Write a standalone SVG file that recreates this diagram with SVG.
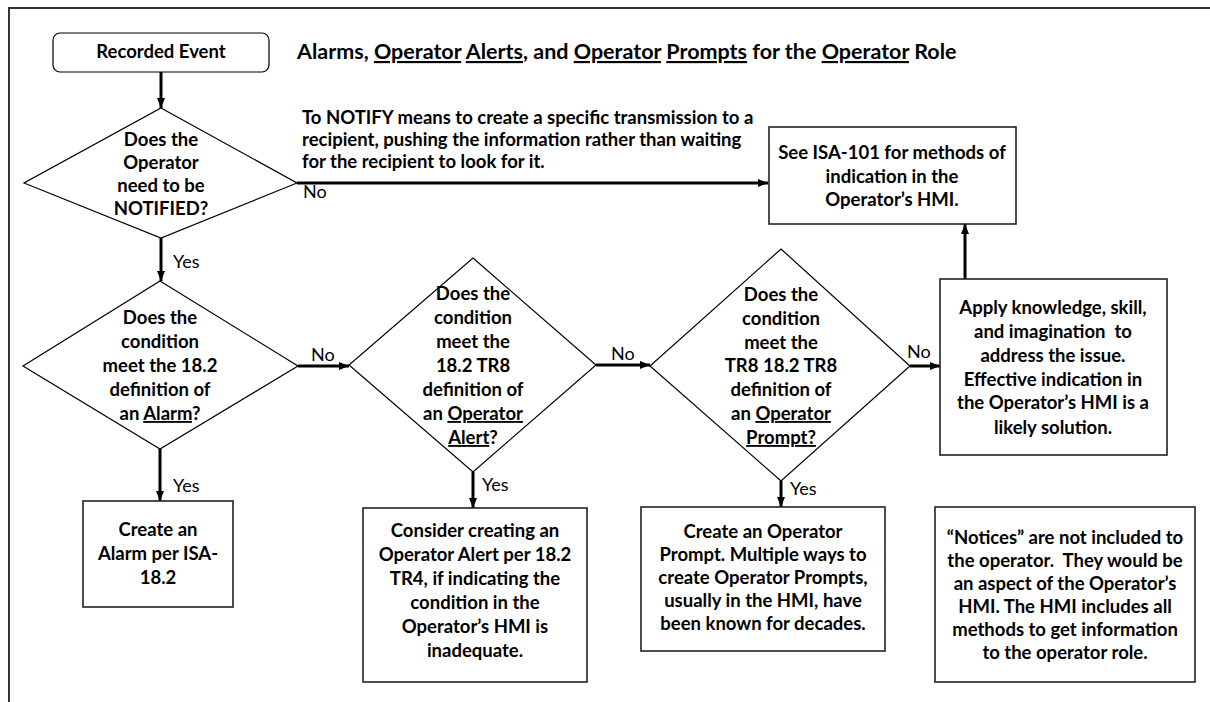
<svg xmlns="http://www.w3.org/2000/svg" width="1210" height="702" viewBox="0 0 1210 702">
<style>
.b{font-family:Lato,"Open Sans","Liberation Sans",sans-serif;font-weight:700;font-size:18.5px;fill:#000;text-anchor:middle}
.t{font-family:Lato,"Open Sans","Liberation Sans",sans-serif;font-weight:700;font-size:21.5px;fill:#000}
.n{font-family:Lato,"Open Sans","Liberation Sans",sans-serif;font-weight:700;font-size:18.5px;fill:#000}
.r{font-family:Lato,"Open Sans","Liberation Sans",sans-serif;font-weight:400;font-size:18px;fill:#000}
.u{text-decoration:underline}
.pre{white-space:pre}
.box{fill:#fff;stroke:#222;stroke-width:1.6}
.dia{fill:#fff;stroke:#000;stroke-width:1.2}
.con{fill:none;stroke:#000;stroke-width:3}
</style>
<defs>
<marker id="ah" markerUnits="userSpaceOnUse" markerWidth="10" markerHeight="8" refX="10" refY="4" orient="auto">
<path d="M0,0 L10,4 L0,8 z" fill="#000"/>
</marker>
</defs>
<rect width="1210" height="702" fill="#fff"/>
<path d="M9,702 V8 H1210" fill="none" stroke="#333" stroke-width="2"/>

<g id="connectors">
<line class="con" x1="161" y1="72" x2="161" y2="108" marker-end="url(#ah)"/>
<line class="con" x1="297" y1="183" x2="768" y2="183" stroke-width="2.5" marker-end="url(#ah)"/>
<line class="con" x1="161" y1="238" x2="161" y2="281" marker-end="url(#ah)"/>
<line class="con" x1="298" y1="366" x2="349" y2="366" marker-end="url(#ah)"/>
<line class="con" x1="596" y1="365" x2="650" y2="365" marker-end="url(#ah)"/>
<line class="con" x1="910" y1="366" x2="940" y2="366" marker-end="url(#ah)"/>
<line class="con" x1="965" y1="279" x2="965" y2="224" marker-end="url(#ah)"/>
<line class="con" x1="160" y1="449" x2="160" y2="501" marker-end="url(#ah)"/>
<line class="con" x1="473" y1="472" x2="473" y2="508" marker-end="url(#ah)"/>
<line class="con" x1="781" y1="481" x2="781" y2="507" marker-end="url(#ah)"/>
<text class="r" x="303" y="198">No</text>
<text class="r" x="173" y="268">Yes</text>
<text class="r" x="311" y="361">No</text>
<text class="r" x="611" y="360">No</text>
<text class="r" x="907" y="358">No</text>
<text class="r" x="173" y="492">Yes</text>
<text class="r" x="482" y="491">Yes</text>
<text class="r" x="790" y="495">Yes</text>
</g>

<g id="title">
<text class="t" x="297" y="59">Alarms, <tspan class="u">Operator</tspan> <tspan class="u">Alerts</tspan>, and <tspan class="u">Operator</tspan> <tspan class="u">Prompts</tspan> for the <tspan class="u">Operator</tspan> Role</text>
</g>

<g id="note-notify">
<text class="n" x="302" y="124">To NOTIFY means to create a specific transmission to a</text>
<text class="n" x="302" y="146">recipient, pushing the information rather than waiting</text>
<text class="n" x="302" y="168">for the recipient to look for it.</text>
</g>

<g id="recorded-event">
<rect x="53" y="33" width="216" height="39" rx="7" fill="#fff" stroke="#000" stroke-width="1.2"/>
<text class="b" x="161" y="58" font-size="17.5">Recorded Event</text>
</g>

<g id="d-notified">
<polygon class="dia" points="161,108 297,183 161,238 24,183"/>
<text class="b" x="161" y="146">Does the</text>
<text class="b" x="161" y="169">Operator</text>
<text class="b" x="161" y="192">need to be</text>
<text class="b" x="161" y="215">NOTIFIED?</text>
</g>

<g id="see-isa101">
<rect class="box" x="769" y="127" width="247" height="97"/>
<text class="b" x="892" y="159">See ISA-101 for methods of</text>
<text class="b" x="892" y="183">indication in the</text>
<text class="b" x="892" y="206">Operator’s HMI.</text>
</g>

<g id="d-alarm">
<polygon class="dia" points="160,281 298,366 160,449 23,366"/>
<text class="b" x="160" y="324">Does the</text>
<text class="b" x="160" y="348">condition</text>
<text class="b" x="160" y="372">meet the 18.2</text>
<text class="b" x="160" y="396">definition of</text>
<text class="b" x="160" y="420">an <tspan class="u">Alarm</tspan>?</text>
</g>

<g id="d-alert">
<polygon class="dia" points="473,258 596,365 473,472 349,365"/>
<text class="b" x="473" y="300">Does the</text>
<text class="b" x="473" y="324">condition</text>
<text class="b" x="473" y="348">meet the</text>
<text class="b" x="473" y="372">18.2 TR8</text>
<text class="b" x="473" y="396">definition of</text>
<text class="b" x="473" y="420">an <tspan class="u">Operator</tspan></text>
<text class="b" x="473" y="444"><tspan class="u">Alert</tspan>?</text>
</g>

<g id="d-prompt">
<polygon class="dia" points="781,249 910,366 781,481 650,366"/>
<text class="b" x="781" y="301">Does the</text>
<text class="b" x="781" y="325">condition</text>
<text class="b" x="781" y="349">meet the</text>
<text class="b" x="781" y="372">TR8 18.2 TR8</text>
<text class="b" x="781" y="396">definition of</text>
<text class="b" x="781" y="420">an <tspan class="u">Operator</tspan></text>
<text class="b" x="781" y="444"><tspan class="u">Prompt?</tspan></text>
</g>

<g id="apply-knowledge">
<rect class="box" x="940" y="279" width="227" height="176"/>
<text class="b" x="1053" y="314">Apply knowledge, skill,</text>
<text class="b pre" x="1053" y="338">and imagination  to</text>
<text class="b" x="1053" y="362">address the issue.</text>
<text class="b" x="1053" y="386">Effective indication in</text>
<text class="b" x="1053" y="409">the Operator’s HMI is a</text>
<text class="b" x="1053" y="434">likely solution.</text>
</g>

<g id="create-alarm">
<rect class="box" x="83" y="501" width="150" height="106"/>
<text class="b" x="158" y="536">Create an</text>
<text class="b" x="158" y="560">Alarm per ISA-</text>
<text class="b" x="158" y="584">18.2</text>
</g>

<g id="consider-alert">
<rect class="box" x="363" y="508" width="224" height="174"/>
<text class="b" x="475" y="537">Consider creating an</text>
<text class="b" x="475" y="561">Operator Alert per 18.2</text>
<text class="b" x="475" y="585">TR4, if indicating the</text>
<text class="b" x="475" y="609">condition in the</text>
<text class="b" x="475" y="633">Operator’s HMI is</text>
<text class="b" x="475" y="657">inadequate.</text>
</g>

<g id="create-prompt">
<rect class="box" x="641" y="507" width="244" height="144"/>
<text class="b" x="763" y="538">Create an Operator</text>
<text class="b" x="763" y="561">Prompt. Multiple ways to</text>
<text class="b" x="763" y="584">create Operator Prompts,</text>
<text class="b" x="763" y="607">usually in the HMI, have</text>
<text class="b" x="763" y="630">been known for decades.</text>
</g>

<g id="notices">
<rect class="box" x="935" y="507" width="260" height="175"/>
<text class="b" x="1065" y="544">“Notices” are not included to</text>
<text class="b pre" x="1065" y="567">the operator.  They would be</text>
<text class="b" x="1065" y="590">an aspect of the Operator’s</text>
<text class="b" x="1065" y="613">HMI. The HMI includes all</text>
<text class="b" x="1065" y="636">methods to get information</text>
<text class="b" x="1065" y="659">to the operator role.</text>
</g>
</svg>
